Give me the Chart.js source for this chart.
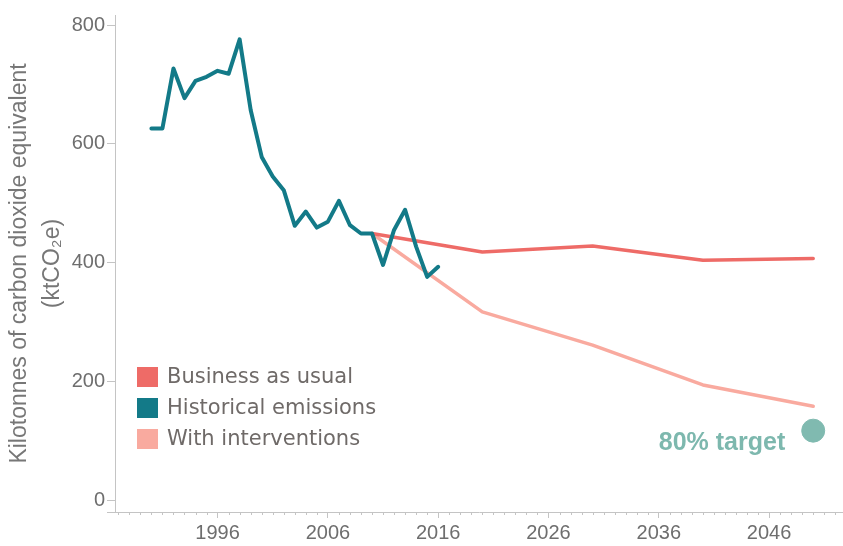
<!DOCTYPE html>
<html>
<head>
<meta charset="utf-8">
<script src="https://cdn.jsdelivr.net/npm/chart.js@4.4.1/dist/chart.umd.min.js"></script>
<style>
  html, body { margin: 0; padding: 0; background: #fff; overflow: hidden; }
  #wrap { width: 843px; height: 546px; position: relative; }
  #chart { display: block; }
</style>
</head>
<body>
<div id="wrap"><canvas id="chart"></canvas></div>
<script>
// historical emissions, ktCO2e
const histYears = [1990, 1991, 1992, 1993, 1994, 1995, 1996, 1997, 1998, 1999,
  2000, 2001, 2002, 2003, 2004, 2005, 2006, 2007, 2008, 2009,
  2010, 2011, 2012, 2013, 2014, 2015, 2016];
const histValues = [626, 626, 727, 677, 706, 713, 723, 718, 776, 657,
  578, 545, 522, 462, 486, 459, 469, 504, 463, 449,
  449, 396, 455, 489, 427, 376, 393];

// projections
const scenarioYears = [2010, 2020, 2030, 2040, 2050];
const businessAsUsual = [449, 418, 428, 404, 407];
const withInterventions = [449, 317, 261, 194, 158];

const targetYear = 2050;
const targetValue = 117;
const targetLabel = '80% target';

const yTicks = [0, 200, 400, 600, 800];
const xLabelYears = [1996, 2006, 2016, 2026, 2036, 2046];

const pts = (xs, ys) => xs.map((x, i) => ({ x: x, y: ys[i] }));

const TEAL = '#137a88';
const RED = '#ee6b67';
const PINK = '#f9aa9f';
const TARGET = '#80bab0';
const GREY = '#6e6e6e';
const AXIS = '#c4c4c4';

const extras = {
  id: 'extras',
  afterDraw(chart) {
    const ctx = chart.ctx;
    const area = chart.chartArea;
    const xs = chart.scales.x;
    const ys = chart.scales.y;
    ctx.save();
    // minor yearly ticks + axis stub left of y axis
    ctx.strokeStyle = AXIS;
    ctx.lineWidth = 1;
    ctx.beginPath();
    ctx.moveTo(area.left - 8, area.bottom + 0.5);
    ctx.lineTo(area.left, area.bottom + 0.5);
    for (let yr = Math.ceil(xs.min); yr <= Math.floor(xs.max); yr++) {
      if (xLabelYears.includes(yr)) continue;
      const px = Math.round(xs.getPixelForValue(yr)) + 0.5;
      ctx.moveTo(px, area.bottom);
      ctx.lineTo(px, area.bottom + 3);
    }
    ctx.stroke();

    // legend
    const items = chart.data.datasets.filter(d => d.inLegend);
    items.sort((a, b) => a.label.localeCompare(b.label));
    ctx.font = '21px "DejaVu Sans"';
    ctx.textBaseline = 'middle';
    ctx.textAlign = 'left';
    items.forEach((d, i) => {
      const cy = area.bottom - 135 + i * 31;
      ctx.fillStyle = d.borderColor;
      ctx.fillRect(area.left + 22, cy - 10, 21, 20);
      ctx.fillStyle = '#6f6a68';
      ctx.fillText(d.label, area.left + 52, cy + 1);
    });

    // target label
    const tx = xs.getPixelForValue(targetYear);
    const ty = ys.getPixelForValue(targetValue);
    ctx.font = 'bold 25px "Liberation Sans"';
    ctx.textAlign = 'right';
    ctx.textBaseline = 'alphabetic';
    ctx.fillStyle = '#7db8ae';
    ctx.fillText(targetLabel, tx - 28, ty + 19);
    ctx.restore();
  }
};

new Chart(document.getElementById('chart'), {
  type: 'line',
  data: {
    datasets: [
      {
        label: 'Historical emissions',
        data: pts(histYears, histValues),
        borderColor: TEAL,
        backgroundColor: TEAL,
        borderWidth: 4,
        inLegend: true
      },
      {
        label: 'Business as usual',
        data: pts(scenarioYears, businessAsUsual),
        borderColor: RED,
        backgroundColor: RED,
        borderWidth: 3.5,
        inLegend: true
      },
      {
        label: 'With interventions',
        data: pts(scenarioYears, withInterventions),
        borderColor: PINK,
        backgroundColor: PINK,
        borderWidth: 3.5,
        inLegend: true
      },
      {
        type: 'scatter',
        label: targetLabel,
        data: [{ x: targetYear, y: targetValue }],
        backgroundColor: TARGET,
        borderColor: TARGET,
        pointRadius: 11.5,
        pointHoverRadius: 11.5,
        inLegend: false
      }
    ]
  },
  options: {
    responsive: true,
    maintainAspectRatio: false,
    animation: false,
    layout: { autoPadding: false, padding: { top: 15, left: 0, right: 0, bottom: 0 } },
    elements: {
      line: { tension: 0, borderJoinStyle: 'round', borderCapStyle: 'round' },
      point: { radius: 0, hoverRadius: 0 }
    },
    plugins: {
      legend: { display: false },
      tooltip: { enabled: false }
    },
    scales: {
      x: {
        type: 'linear',
        min: 1986.7,
        max: 2052.7,
        afterBuildTicks: s => { s.ticks = xLabelYears.map(v => ({ value: v })); },
        afterFit: s => { s.height = 34; s.paddingLeft = 0; s.paddingRight = 0; },
        border: { color: AXIS, width: 1 },
        grid: { drawOnChartArea: false, tickLength: 6, color: AXIS },
        ticks: {
          padding: 3,
          color: GREY,
          font: { family: '"Liberation Sans"', size: 20 },
          callback: v => String(v)
        }
      },
      y: {
        min: -20,
        max: 817,
        afterBuildTicks: s => { s.ticks = yTicks.map(v => ({ value: v })); },
        afterFit: s => { s.width = 115; s.paddingTop = 0; s.paddingBottom = 0; },
        border: { color: AXIS, width: 1 },
        grid: { drawOnChartArea: false, tickLength: 8, color: AXIS },
        ticks: {
          padding: 2,
          color: GREY,
          font: { family: '"Liberation Sans"', size: 20 }
        },
        title: {
          display: true,
          text: ['Kilotonnes of carbon dioxide equivalent', '(ktCO\u2082e)'],
          color: '#777',
          font: { family: '"Liberation Sans"', size: 23, lineHeight: 1.45 },
          padding: { top: 3, bottom: 0 }
        }
      }
    }
  },
  plugins: [extras]
});
</script>
</body>
</html>
